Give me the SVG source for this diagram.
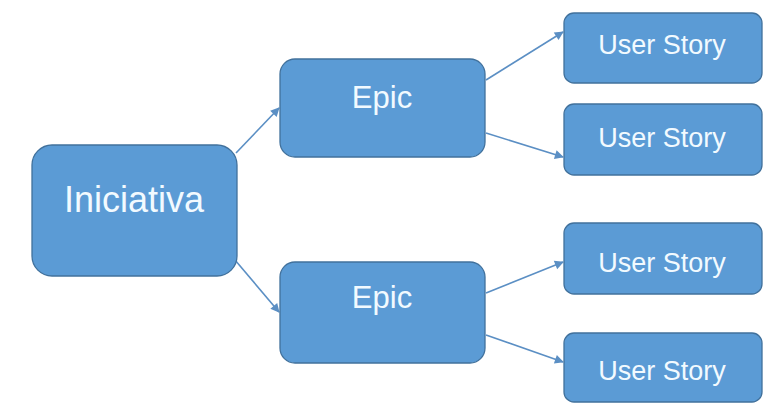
<svg xmlns="http://www.w3.org/2000/svg" width="763" height="403" viewBox="0 0 763 403">
<style>
.box{fill:#5B9BD5;stroke:#41719C;stroke-width:1.3}
.t{fill:#F2FAFF;font-family:"Liberation Sans",Arial,sans-serif;text-anchor:middle}
.c{stroke:#5B8FC4;stroke-width:1.6;fill:none;marker-end:url(#ah)}
</style>
<defs>
<marker id="ah" viewBox="0 0 10 10" refX="9" refY="5" markerWidth="9" markerHeight="9" markerUnits="userSpaceOnUse" orient="auto" overflow="visible">
<path d="M0,0 L10,5 L0,10 z" fill="#5B8FC4"/>
</marker>
</defs>
<rect width="763" height="403" fill="#FFFFFF"/>
<g id="connectors">
<line class="c" x1="236" y1="153" x2="279" y2="108"/>
<line class="c" x1="235" y1="260" x2="279" y2="312"/>
<line class="c" x1="486" y1="80" x2="563" y2="32"/>
<line class="c" x1="486" y1="133" x2="563" y2="157"/>
<line class="c" x1="486" y1="293" x2="563" y2="262"/>
<line class="c" x1="486" y1="335" x2="563" y2="362"/>
</g>
<g id="iniciativa">
<rect class="box" x="32" y="145" width="205" height="131" rx="20"/>
<text class="t" x="134" y="212" font-size="36">Iniciativa</text>
</g>
<g id="epic1">
<rect class="box" x="280" y="59" width="205" height="98" rx="15"/>
<text class="t" x="382" y="108" font-size="31">Epic</text>
</g>
<g id="epic2">
<rect class="box" x="280" y="262" width="205" height="101" rx="15"/>
<text class="t" x="382" y="308" font-size="31">Epic</text>
</g>
<g id="story1">
<rect class="box" x="564" y="13" width="198" height="70" rx="10"/>
<text class="t" x="662" y="54" font-size="27">User Story</text>
</g>
<g id="story2">
<rect class="box" x="564" y="104" width="198" height="71" rx="10"/>
<text class="t" x="662" y="147" font-size="27">User Story</text>
</g>
<g id="story3">
<rect class="box" x="564" y="223" width="198" height="71" rx="10"/>
<text class="t" x="662" y="272" font-size="27">User Story</text>
</g>
<g id="story4">
<rect class="box" x="564" y="333" width="198" height="69" rx="10"/>
<text class="t" x="662" y="380" font-size="27">User Story</text>
</g>
</svg>
